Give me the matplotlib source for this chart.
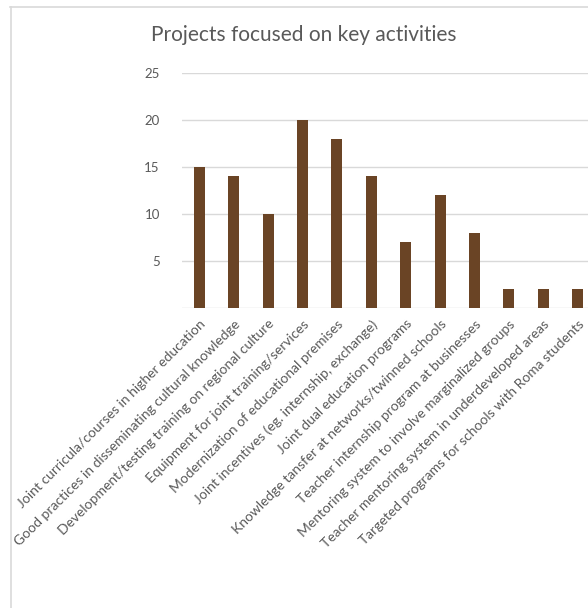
import matplotlib.pyplot as plt
from matplotlib.lines import Line2D

categories = [
    "Joint curricula/courses in higher education",
    "Good practices in disseminating cultural knowledge",
    "Development/testing training on regional culture",
    "Equipment for joint training/services",
    "Modernization of educational premises",
    "Joint incentives (eg. internship, exchange)",
    "Joint dual education programs",
    "Knowledge tansfer at networks/twinned schools",
    "Teacher internship program at businesses",
    "Mentoring system to involve marginalized groups",
    "Teacher mentoring system in underdeveloped areas",
    "Targeted programs for schools with Roma students",
]
values = [15, 14, 10, 20, 18, 14, 7, 12, 8, 2, 2, 2]
y_ticks = [5, 10, 15, 20, 25]

W, H = 588, 608
plt.rcParams['font.family'] = ['Lato', 'DejaVu Sans']

fig = plt.figure(figsize=(W / 100, H / 100), dpi=100)
fig.patch.set_facecolor('white')

# plot area runs a little past the right edge, as in the cropped screenshot
left, right, top, bottom = 182, 595, 73, 308
ax = fig.add_axes([left / W, 1 - bottom / H, (right - left) / W, (bottom - top) / H])

x = list(range(len(categories)))
ax.bar(x, values, width=0.32, color='#6A4425', zorder=3)

ax.set_xlim(-0.5, len(categories) - 0.5)
ax.set_ylim(0, 25)
ax.set_yticks(y_ticks)
ax.set_yticklabels([str(v) for v in y_ticks], color='#595959', fontsize=9.5)
ax.yaxis.grid(True, color='#d9d9d9', linewidth=1)
ax.axhline(0, color='#d9d9d9', linewidth=1, zorder=2)
for s in ax.spines.values():
    s.set_visible(False)
ax.tick_params(axis='y', length=0, pad=16)
ax.tick_params(axis='x', length=0, pad=7)

ax.set_xticks(x)
ax.set_xticklabels(categories, rotation=45, ha='right', rotation_mode='anchor',
                   color='#595959', fontsize=10)

fig.text(304 / W, 1 - 35 / H, "Projects focused on key activities",
         ha='center', va='center', fontsize=15, color='#595959')

# chart frame (top and left edges visible)
fig.add_artist(Line2D([10 / W, 1], [1 - 6.5 / H] * 2, color='#d9d9d9', lw=1.2,
                      transform=fig.transFigure))
fig.add_artist(Line2D([10.5 / W] * 2, [1 - 6.5 / H, 0], color='#d9d9d9', lw=1.2,
                      transform=fig.transFigure))

fig.savefig('out.png', dpi=100, facecolor='white')
